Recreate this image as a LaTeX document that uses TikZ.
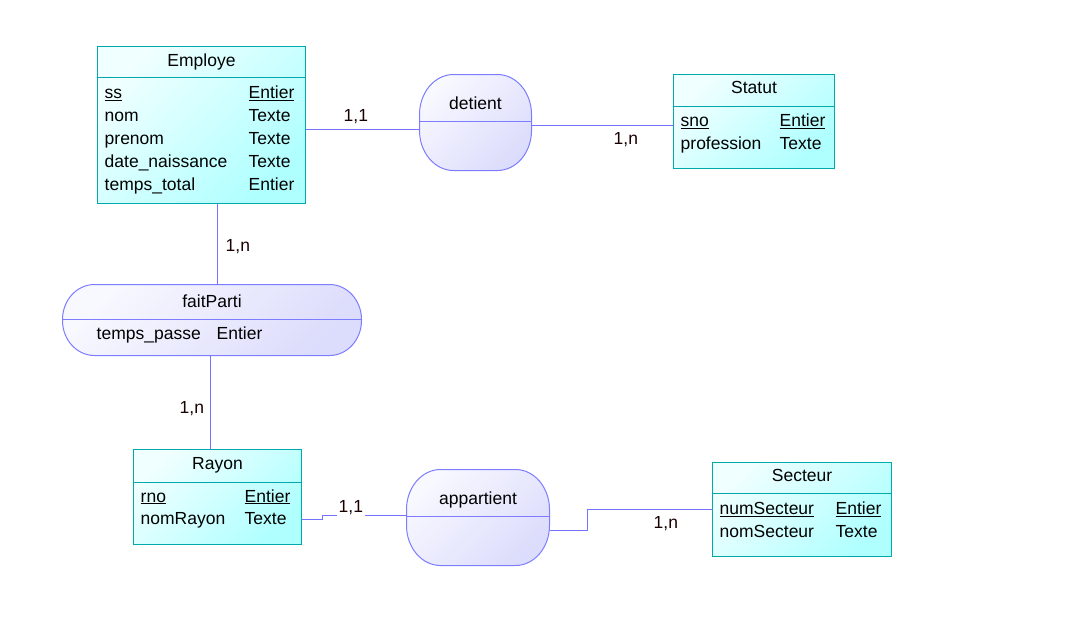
\documentclass[tikz,border=0pt]{standalone}
\usepackage{fontspec}
\setmainfont{Liberation Sans}
\definecolor{entline}{RGB}{0,170,170}
\definecolor{entlight}{RGB}{240,255,255}
\definecolor{entdark}{RGB}{175,255,255}
\definecolor{relline}{RGB}{125,125,255}
\definecolor{rellight}{RGB}{248,248,255}
\definecolor{reldark}{RGB}{220,220,252}
\definecolor{conline}{RGB}{115,115,255}
\tikzset{
  entity/.style={draw=entline, line width=1pt, rectangle, outer sep=0pt, inner sep=0pt,
    top color=entlight, bottom color=entdark, shading angle=45},
  relation/.style={rectangle, outer sep=0pt, inner sep=0pt},
  relshape/.style={draw=relline, line width=1pt, top color=rellight, bottom color=reldark, shading angle=45},
  hline/.style={line width=1pt},
  conn/.style={draw=conline, line width=1pt},
  txt/.style={font=\fontsize{17.5}{21}\selectfont, inner sep=0pt, anchor=base west, text=black},
  ttl/.style={font=\fontsize{17.5}{21}\selectfont, inner sep=0pt, anchor=base, text=black},
  card/.style={font=\fontsize{17.5}{21}\selectfont, inner sep=0pt, anchor=base west, text=black!90!red},
}
\newcommand\mkrelshape[3]{%
  \path[relshape] ([xshift=#2]#1.north west) -- ([xshift=-#2]#1.north east)
    arc[start angle=90, end angle=0, x radius=#2, y radius=#3]
    -- ([yshift=#3]#1.south east)
    arc[start angle=0, end angle=-90, x radius=#2, y radius=#3]
    -- ([xshift=#2]#1.south west)
    arc[start angle=-90, end angle=-180, x radius=#2, y radius=#3]
    -- ([yshift=-#3]#1.north west)
    arc[start angle=180, end angle=90, x radius=#2, y radius=#3] -- cycle;}
\begin{document}
\begin{tikzpicture}[x=1pt,y=-1pt]
\useasboundingbox[fill=white] (-0.5,-0.5) rectangle (1072.5,639.5);

\node[entity, minimum width=208pt, minimum height=157pt] (emp) at (201,124.5) {};
\node[entity, minimum width=161pt, minimum height=94pt] (stat) at (753.5,121) {};
\node[entity, minimum width=168pt, minimum height=95pt] (ray) at (217,496.5) {};
\node[entity, minimum width=179pt, minimum height=94pt] (sect) at (801.5,509) {};
\node[relation, minimum width=112pt, minimum height=96pt] (det) at (475,122) {};
\node[relation, minimum width=299pt, minimum height=71pt] (fait) at (211.5,319.5) {};
\node[relation, minimum width=143pt, minimum height=96pt] (app) at (477.5,517) {};
\mkrelshape{det}{34pt}{40pt}
\mkrelshape{fait}{32pt}{35pt}
\mkrelshape{app}{34pt}{40pt}

% header separators
\draw[hline, draw=entline] (emp.west |- 0,77) -- (emp.east |- 0,77);
\draw[hline, draw=entline] (stat.west |- 0,106) -- (stat.east |- 0,106);
\draw[hline, draw=entline] (ray.west |- 0,482) -- (ray.east |- 0,482);
\draw[hline, draw=entline] (sect.west |- 0,493) -- (sect.east |- 0,493);
\draw[hline, draw=relline] (det.west |- 0,121) -- (det.east |- 0,121);
\draw[hline, draw=relline] (fait.west |- 0,319) -- (fait.east |- 0,319);
\draw[hline, draw=relline] (app.west |- 0,516) -- (app.east |- 0,516);

% connectors
\draw[conn] ([yshift=-4.5pt]emp.east) -- ([yshift=-4.5pt]emp.east -| det.west);
\draw[conn] ([yshift=-4pt]stat.west) -- ([yshift=-4pt]stat.west -| det.east);
\draw[conn] ([xshift=16pt]emp.south) -- ([xshift=16pt]emp.south |- fait.north);
\draw[conn] ([xshift=-7pt]ray.north) -- ([xshift=-7pt]ray.north |- fait.south);
\draw[conn] ([yshift=-22.5pt]ray.east) -- ++(21,0) |- ([yshift=2pt]app.west);
\draw[conn] ([yshift=-13pt]app.east) -- ++(38,0) |- (sect.west);

% Employe
\node[ttl] (empT) at (201,66) {Employe};
\node[txt] (e1) at (104,98) {\underline{ss}};
\node[txt] (e2) at (104,121) {nom};
\node[txt] (e3) at (104,144) {prenom};
\node[txt] (e4) at (104,167) {date\_naissance};
\node[txt] (e5) at (104,190) {temps\_total};
\node[txt] (t1) at (248,98) {\underline{Entier}};
\node[txt] (t2) at (248,121) {Texte};
\node[txt] (t3) at (248,144) {Texte};
\node[txt] (t4) at (248,167) {Texte};
\node[txt] (t5) at (248,190) {Entier};

% Statut
\node[ttl] (statT) at (753.5,93) {Statut};
\node[txt] (s1) at (680,126) {\underline{sno}};
\node[txt] (s2) at (680,149) {profession};
\node[txt] (st1) at (779,126) {\underline{Entier}};
\node[txt] (st2) at (779,149) {Texte};

% detient
\node[ttl] (detT) at (475,109) {detient};

% faitParti
\node[ttl] (faitT) at (211.5,307) {faitParti};
\node[txt] (f1) at (96,339) {temps\_passe};
\node[txt] (ft1) at (216,339) {Entier};

% Rayon
\node[ttl] (rayT) at (217,469) {Rayon};
\node[txt] (r1) at (140,501.5) {\underline{rno}};
\node[txt] (r2) at (140,524) {nomRayon};
\node[txt] (rt1) at (244,501.5) {\underline{Entier}};
\node[txt] (rt2) at (244,524) {Texte};

% Secteur
\node[ttl] (sectT) at (801.5,481) {Secteur};
\node[txt] (c1) at (719,514) {\underline{numSecteur}};
\node[txt] (c2) at (719,537) {nomSecteur};
\node[txt] (ct1) at (835,514) {\underline{Entier}};
\node[txt] (ct2) at (835,537) {Texte};

% appartient
\node[ttl] (appT) at (477.5,504) {appartient};

% cardinalities
\node[card] (k1) at (343,121) {1,1};
\node[card] (k2) at (613,144) {1,n};
\node[card] (k3) at (225,251) {1,n};
\node[card] (k4) at (179,413) {1,n};
\node[card, fill=white, inner xsep=2pt, inner ysep=3pt] (k5) at (336,512) {1,1};
\node[card] (k6) at (653,528) {1,n};
\end{tikzpicture}
\end{document}
